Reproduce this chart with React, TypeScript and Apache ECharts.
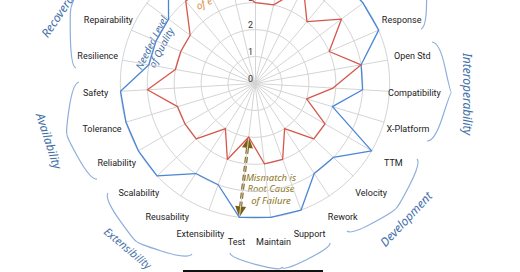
import React, { useEffect, useRef } from 'react';
import * as echarts from 'echarts';

// ---- data ----
const indicatorNames = [
  '', '', '', '', '', 'Repairability', 'Resilience', 'Safety', 'Tolerance',
  'Reliability', 'Scalability', 'Reusability', 'Extensibility', 'Test',
  'Maintain', 'Support', 'Rework', 'Velocity', 'TTM', 'X-Platform',
  'Compatibility', 'Open Std', 'Response', '', '', '', '',
];
const actualQuality = [3, 4, 4, 4, 3, 3, 3, 4, 3, 3, 3, 2, 3, 2, 3, 3, 2, 3, 3, 2, 2.9, 4, 3, 4, 3, 4, 3];
const neededQuality = [5, 5, 5, 5, 4, 4, 4, 5, 5, 5, 5, 4, 4, 5, 5, 5, 4, 4, 5, 3, 4, 4, 5, 5, 5, 5, 5];
const scaleMax = 5;
const scaleSplits = 5;
const mismatchIndex = 13; // "Test"

const groupLabels = ['Recoverability', 'Availability', 'Extensibility', 'Development', 'Interoperability'];
const neededLabel = 'Needed Level\nof Quality';
const mismatchLabel = 'Mismatch is\nRoot Cause\nof Failure';
const actualLabelPart = 'of e';

// ---- layout ----
const CX = 255;
const CY = 83.5;
const R = 134.7;

function brace(x1: number, y1: number, x2: number, y2: number, w: number, q: number) {
  let dx = x1 - x2, dy = y1 - y2;
  const len = Math.hypot(dx, dy);
  dx /= len; dy /= len;
  const qx1 = x1 + q * w * dy, qy1 = y1 - q * w * dx;
  const qx2 = (x1 - 0.25 * len * dx) + (1 - q) * w * dy, qy2 = (y1 - 0.25 * len * dy) - (1 - q) * w * dx;
  const tx = (x1 - 0.5 * len * dx) + w * dy, ty = (y1 - 0.5 * len * dy) - w * dx;
  const qx3 = x2 + q * w * dy, qy3 = y2 - q * w * dx;
  const qx4 = (x1 - 0.75 * len * dx) + (1 - q) * w * dy, qy4 = (y1 - 0.75 * len * dy) - (1 - q) * w * dx;
  const c1x = 2 * qx2 - qx1, c1y = 2 * qy2 - qy1;
  const c2x = 2 * qx4 - qx3, c2y = 2 * qy4 - qy3;
  const f = (n: number) => n.toFixed(2);
  return `M${f(x1)} ${f(y1)}Q${f(qx1)} ${f(qy1)} ${f(qx2)} ${f(qy2)}Q${f(c1x)} ${f(c1y)} ${f(tx)} ${f(ty)}` +
    `M${f(x2)} ${f(y2)}Q${f(qx3)} ${f(qy3)} ${f(qx4)} ${f(qy4)}Q${f(c2x)} ${f(c2y)} ${f(tx)} ${f(ty)}`;
}

const bracePath = [
  brace(100, -45, 76, 68, 17, 0.3),
  brace(79, 82, 97, 179, 21, 0.3),
  brace(108, 193, 192, 254, 22, 0.3),
  brace(230, 253, 330, 243, 19, 0.25),
  brace(347, 231, 417, 159, 19, 0.3),
  brace(427, 141, 432, 42, 22, 0.35),
  brace(421, 29, 395, -55, 18, 0.3),
].join('');

let registered = false;
function registerShapes() {
  if (registered) return;
  echarts.graphic.registerShape('braces', echarts.graphic.extendPath(bracePath, {}) as any);
  registered = true;
}

function polar(k: number, v: number) {
  const th = (k * 2 * Math.PI) / indicatorNames.length;
  const r = (v / scaleMax) * R;
  return [CX - r * Math.sin(th), CY - r * Math.cos(th)];
}

export default function App() {
  const ref = useRef<HTMLDivElement>(null);
  useEffect(() => {
    if (!ref.current) return;
    registerShapes();
    const chart = echarts.init(ref.current, undefined, { renderer: 'svg' });

    const A = polar(mismatchIndex, actualQuality[mismatchIndex]);
    const B = polar(mismatchIndex, neededQuality[mismatchIndex]);
    const len = Math.hypot(B[0] - A[0], B[1] - A[1]);
    const ux = (B[0] - A[0]) / len, uy = (B[1] - A[1]) / len;
    const px = -uy, py = ux;
    const hl = 11, hw = 5.5;
    const arrowColor = '#7b5e10';

    const hand = { fontFamily: 'Noto Sans', fontStyle: 'italic' as const };
    const groupColor = '#4470a8';

    chart.setOption({
      animation: false,
      backgroundColor: '#ffffff',
      radar: {
        center: [CX, CY],
        radius: R,
        startAngle: 90,
        splitNumber: scaleSplits,
        shape: 'circle',
        indicator: indicatorNames.map((name, i) => ({
          name,
          min: 0,
          max: scaleMax,
          ...(i === 0 ? { axisLabel: { show: true } } : {}),
        })),
        axisName: {
          color: '#222',
          fontFamily: 'Roboto',
          fontSize: 9,
          align: 'center',
          verticalAlign: 'middle',
        },
        axisNameGap: 25,
        axisLine: { lineStyle: { color: '#d4d4d4', width: 1 } },
        splitLine: { lineStyle: { color: '#d4d4d4', width: 1 } },
        splitArea: { show: false },
        axisTick: { show: false },
        axisLabel: {
          show: false, color: '#333', fontSize: 9, fontFamily: 'Roboto', margin: 2,
          verticalAlign: 'bottom',
        },
      },
      series: [
        {
          type: 'radar',
          symbol: 'none',
          data: [
            { name: 'Needed Level of Quality', value: neededQuality, lineStyle: { color: '#4a86d6', width: 1.3 } },
            { name: 'Actual Level of Quality', value: actualQuality, lineStyle: { color: '#d5574b', width: 1.3 } },
          ],
        },
      ],
      graphic: [
        { type: 'braces', x: 0, y: 0, silent: true, style: { stroke: '#8eaedb', fill: 'none', lineWidth: 1.2 } },
        {
          type: 'line', silent: true,
          shape: { x1: A[0] + ux * hl, y1: A[1] + uy * hl, x2: B[0] - ux * hl, y2: B[1] - uy * hl },
          style: { stroke: arrowColor, lineWidth: 3, lineDash: [6, 3] },
        },
        {
          type: 'polygon', silent: true,
          shape: { points: [[A[0], A[1]], [A[0] + ux * hl + px * hw, A[1] + uy * hl + py * hw], [A[0] + ux * hl - px * hw, A[1] + uy * hl - py * hw]] },
          style: { fill: arrowColor },
        },
        {
          type: 'polygon', silent: true,
          shape: { points: [[B[0], B[1]], [B[0] - ux * hl + px * hw, B[1] - uy * hl + py * hw], [B[0] - ux * hl - px * hw, B[1] - uy * hl - py * hw]] },
          style: { fill: arrowColor },
        },
        {
          type: 'text', x: 271, y: 188.5, silent: true,
          style: { text: mismatchLabel, fill: '#8a7421', fontSize: 9.5, lineHeight: 11.5, align: 'center', verticalAlign: 'middle', ...hand },
        },
        {
          type: 'text', x: 156, y: 45, rotation: (63 * Math.PI) / 180, silent: true,
          style: { text: neededLabel, fill: groupColor, fontSize: 10, lineHeight: 11, align: 'center', verticalAlign: 'middle', ...hand },
        },
        {
          type: 'text', x: 204, y: 3, rotation: (25 * Math.PI) / 180, silent: true,
          style: { text: actualLabelPart, fill: '#d98a3c', fontSize: 10, align: 'center', verticalAlign: 'middle', ...hand },
        },
        {
          type: 'text', x: 44, y: 36, rotation: (56 * Math.PI) / 180, silent: true,
          style: { text: groupLabels[0], fill: groupColor, fontSize: 12, align: 'left', verticalAlign: 'middle', ...hand },
        },
        {
          type: 'text', x: 49, y: 141, rotation: (-72 * Math.PI) / 180, silent: true,
          style: { text: groupLabels[1], fill: groupColor, fontSize: 12, align: 'center', verticalAlign: 'middle', ...hand },
        },
        {
          type: 'text', x: 128, y: 248, rotation: (-40 * Math.PI) / 180, silent: true,
          style: { text: groupLabels[2], fill: groupColor, fontSize: 11, align: 'center', verticalAlign: 'middle', ...hand },
        },
        {
          type: 'text', x: 406, y: 219, rotation: (47 * Math.PI) / 180, silent: true,
          style: { text: groupLabels[3], fill: groupColor, fontSize: 12, align: 'center', verticalAlign: 'middle', ...hand },
        },
        {
          type: 'text', x: 467, y: 94, rotation: -Math.PI / 2, silent: true,
          style: { text: groupLabels[4], fill: groupColor, fontSize: 12, align: 'center', verticalAlign: 'middle', ...hand },
        },
        {
          type: 'rect', silent: true,
          shape: { x: 183, y: 270, width: 140, height: 4 },
          style: { fill: '#111' },
        },
      ],
    });
    return () => chart.dispose();
  }, []);

  return (
    <div
      ref={ref}
      style={{ position: 'fixed', left: 0, top: 0, width: 520, height: 272, background: '#fff' }}
    />
  );
}
